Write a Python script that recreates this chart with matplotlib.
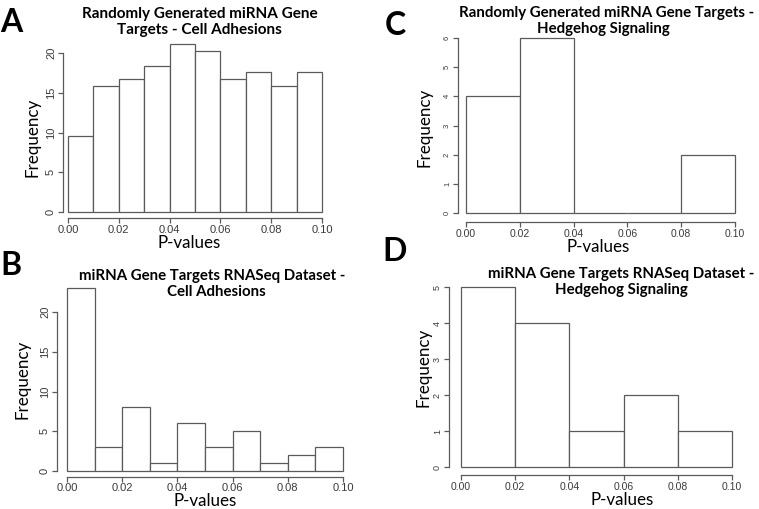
import matplotlib
matplotlib.use("Agg")
import matplotlib.pyplot as plt
import numpy as np

W, H = 759, 509

# ---- data ----
edges_10 = [0.00, 0.01, 0.02, 0.03, 0.04, 0.05, 0.06, 0.07, 0.08, 0.09, 0.10]
edges_5 = [0.00, 0.02, 0.04, 0.06, 0.08, 0.10]
freq_A = [9.6, 15.8, 16.7, 18.4, 21.1, 20.2, 16.7, 17.6, 15.8, 17.6]
freq_B = [23, 3, 8, 1, 6, 3, 5, 1, 2, 3]
freq_C = [4, 6, 0, 0, 2]
freq_D = [5, 4, 1, 2, 1]
xticks = [0.00, 0.02, 0.04, 0.06, 0.08, 0.10]
xticklabels = ["0.00", "0.02", "0.04", "0.06", "0.08", "0.10"]
yticks_A = [0, 5, 10, 15, 20]
yticks_B = [0, 5, 10, 15, 20]
yticks_C = [0, 1, 2, 3, 4, 5, 6]
yticks_D = [0, 1, 2, 3, 4, 5]
title_A = ["Randomly Generated miRNA Gene", "Targets - Cell Adhesions"]
title_B = ["miRNA Gene Targets RNASeq Dataset -", "Cell Adhesions"]
title_C = ["Randomly Generated miRNA Gene Targets -", "Hedgehog Signaling"]
title_D = ["miRNA Gene Targets RNASeq Dataset -", "Hedgehog Signaling"]
xlabel = "P-values"
ylabel = "Frequency"

fig = plt.figure(figsize=(W / 100, H / 100), dpi=100)
fig.patch.set_facecolor("white")
renderer = fig.canvas.get_renderer()

LINE = "#5a5a5a"
TXT = "#3a3a3a"
TF = "Lato"


def fx(x):
    return x / W


def fy(y):
    return 1 - y / H


def fit_size(text, target_px, weight="normal", family=TF, ref=12.0):
    t = fig.text(0, 0, text, fontsize=ref, fontweight=weight, family=family)
    w = t.get_window_extent(renderer=renderer).width
    t.remove()
    return ref * target_px / w


def panel(edges, freq, yticks, x0, x1, y0, ytv, ytp, ytop, xoff, yoff,
          ytsize, xtsize, xpad=1.5):
    scale = (y0 - ytp) / ytv
    top_px = y0 - ytop * scale
    ax = fig.add_axes([fx(x0), fy(y0), (x1 - x0) / W, (y0 - top_px) / H])
    ax.set_xlim(0, 0.1)
    ax.set_ylim(0, ytop)
    widths = np.diff(edges)
    ax.bar(edges[:-1], freq, width=widths, align="edge", color="white",
           edgecolor=LINE, linewidth=0.9, clip_on=False)
    for s in ["top", "right"]:
        ax.spines[s].set_visible(False)
    ax.spines["bottom"].set_position(("outward", xoff * 0.72))
    ax.spines["left"].set_position(("outward", yoff * 0.72))
    ax.spines["bottom"].set_bounds(0, 0.1)
    ax.spines["left"].set_bounds(yticks[0], yticks[-1])
    for s in ["bottom", "left"]:
        ax.spines[s].set_color(LINE)
        ax.spines[s].set_linewidth(0.9)
    ax.set_xticks(xticks)
    ax.set_xticklabels(xticklabels, fontsize=xtsize, color=TXT,
                       family="Liberation Sans")
    ax.set_yticks(yticks)
    ax.set_yticklabels([str(v) for v in yticks], fontsize=ytsize, color=TXT,
                       family="Liberation Sans", rotation=90, va="center")
    ax.tick_params(direction="out", length=3.5, width=0.9, color=LINE, pad=1.5)
    ax.tick_params(axis="x", pad=xpad)
    ax.patch.set_alpha(0)
    return ax


axA = panel(edges_10, freq_A, yticks_A, 68, 322, 212, 20, 53, 21.1, 6, 5, 8, 8)
axB = panel(edges_10, freq_B, yticks_B, 67, 343, 471, 20, 312, 23, 6, 10, 8, 8,
            xpad=0.8)
axC = panel(edges_5, freq_C, yticks_C, 466, 735, 213, 6, 38, 6, 9, 8, 5.5, 7.5)
axD = panel(edges_5, freq_D, yticks_D, 461, 732, 467, 5, 287, 5, 8, 12, 6.5, 7.5)

# titles: (lines, line1 width px, centre x line1, centre x line2, baseline1, baseline2)
titles = [
    (title_A, 235, 199.5, 199.5, 18, 34),
    (title_B, 265, 212, 216, 280, 296),
    (title_C, 295, 607, 603, 17, 33),
    (title_D, 266, 621, 621, 278, 294),
]
for lines, wpx, cx1, cx2, b1, b2 in titles:
    fs = fit_size(lines[0], wpx, weight="bold")
    fig.text(fx(cx1), fy(b1), lines[0], ha="center", va="baseline",
             fontsize=fs, fontweight="bold", family=TF)
    fig.text(fx(cx2), fy(b2), lines[1], ha="center", va="baseline",
             fontsize=fs, fontweight="bold", family=TF)

# axis labels
lab_fs = fit_size(ylabel, 79)
for (x, y) in [(33, 137), (22, 379), (425, 127), (424, 367)]:
    fig.text(fx(x), fy(y), ylabel, rotation=90, ha="center", va="center",
             fontsize=lab_fs, family=TF)
for (x, y) in [(189, 248), (205, 505.5), (598, 252), (622, 505)]:
    fig.text(fx(x), fy(y), xlabel, ha="center", va="baseline",
             fontsize=lab_fs, family=TF)

# panel letters
for (x, y, l) in [(11, 32, "A"), (11, 275, "B"), (395, 35, "C"), (395, 261, "D")]:
    fig.text(fx(x), fy(y), l, ha="center", va="baseline", fontsize=23,
             fontweight="bold", family=TF)

fig.savefig("out.png", dpi=100, facecolor="white")
